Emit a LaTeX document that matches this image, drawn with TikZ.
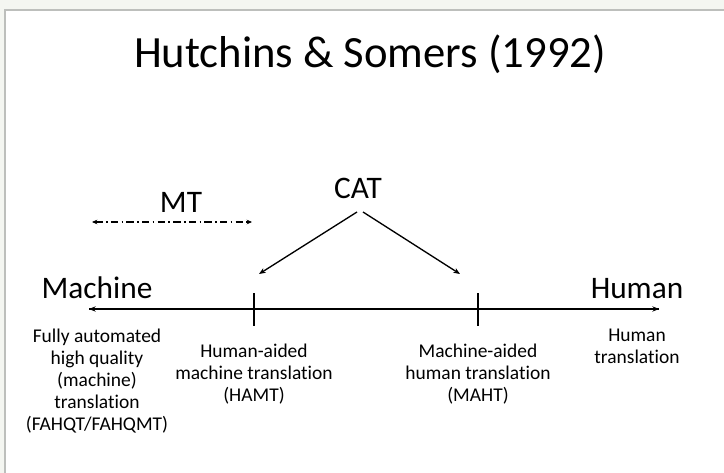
\documentclass[tikz,border=0pt]{standalone}
\usepackage{fontspec}
\setmainfont[Ligatures=NoCommon]{Carlito}
\usetikzlibrary{arrows.meta}
\definecolor{pagebg}{HTML}{F4F6F1}
\definecolor{slideborder}{HTML}{BDBFBC}
\tikzset{
  big/.style={font=\fontsize{23.5}{28}\selectfont, inner sep=0pt},
  small/.style={font=\fontsize{14.6}{16.5}\selectfont, align=center, inner sep=0pt, anchor=north},
  axis/.style={line width=1.2pt, -{Stealth[length=5pt,width=4pt]}},
  catarrow/.style={line width=1pt, -{Stealth[length=5pt,width=4pt]}},
  tick/.style={line width=1.2pt},
  mtline/.style={line width=0.9pt, {Stealth[length=4pt,width=3.5pt]}-{Stealth[length=4pt,width=3.5pt]},
     dash pattern=on 5.5pt off 2.5pt on 1.2pt off 2.5pt}
}
\begin{document}
\begin{tikzpicture}[x=0.75pt,y=-0.75pt]
\useasboundingbox (0,0) rectangle (724,473);
\fill[pagebg] (0,0) rectangle (724,473);
\filldraw[fill=white, draw=slideborder, line width=1.5pt] (5,10) rectangle (740,490);
% title
\node[inner sep=0pt, anchor=base, font=\fontsize{33.5}{38}\selectfont] (title) at (370,68) {Hutchins \& Somers (1992)};
% MT
\node[big, anchor=base] (mt) at (181,213) {MT};
\coordinate (mtl) at (92,222);
\coordinate (mtr) at (252,222);
\draw[mtline] (mtl) -- (mtr);
% CAT
\node[big, anchor=base] (cat) at (358,199) {CAT};
\coordinate (hamtarrow) at (259,274);
\coordinate (mahtarrow) at (460,274);
\draw[catarrow] (357,212) -- (hamtarrow);
\draw[catarrow] (363,212) -- (mahtarrow);
% axis
\coordinate (axl) at (89,309);
\coordinate (axr) at (659,309);
\draw[axis] (axr) -- (axl);
\draw[axis] (axl) -- (axr);
\coordinate (t1) at (254,309);
\coordinate (t2) at (478,309);
\draw[tick] ([yshift=-17*0.75pt]t1) -- ([yshift=16*0.75pt]t1);
\draw[tick] ([yshift=-17*0.75pt]t2) -- ([yshift=16*0.75pt]t2);
% end labels
\node[big, anchor=base] (machine) at (97,299) {Machine};
\node[big, anchor=base] (human) at (637,299) {Human};
% lower labels
\node[small] (fahqt) at (97,329) {Fully automated\\high quality\\(machine)\\translation\\(FAHQT/FAHQMT)};
\node[small] (hamt) at (254,344) {Human-aided\\machine translation\\(HAMT)};
\node[small] (maht) at (478,344) {Machine-aided\\human translation\\(MAHT)};
\node[small] (ht) at (637,329) {Human\\translation};
\end{tikzpicture}
\end{document}
